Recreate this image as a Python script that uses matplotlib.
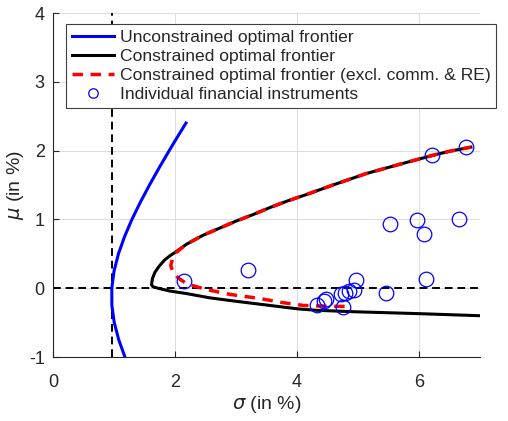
import matplotlib
matplotlib.use("Agg")
import matplotlib.pyplot as plt

plt.rcParams['font.family'] = ['Liberation Sans', 'DejaVu Sans']
plt.rcParams['axes.unicode_minus'] = False

# Unconstrained optimal frontier (sigma, mu) in %
unc_mu = [-1.0, -0.75, -0.5, -0.25, 0.0, 0.25, 0.5, 0.75, 1.0, 1.25, 1.5, 1.75, 2.0, 2.2, 2.4]
unc_sigma = [1.179, 1.078, 1.004, 0.965, 0.964, 1.001, 1.073, 1.173, 1.294, 1.432, 1.582, 1.740, 1.905, 2.041, 2.180]

# Constrained optimal frontier
con_sigma = [7.0, 6.0, 4.86, 4.3, 4.01, 3.55, 3.0, 2.57, 2.2, 1.91, 1.72, 1.64, 1.615,
             1.63, 1.67, 1.74, 1.83, 1.915, 2.0, 2.19, 2.46, 2.75, 3.0, 3.28, 3.55, 3.85,
             4.15, 4.59, 5.13, 5.68, 6.22, 6.5, 6.85]
con_mu = [-0.40, -0.37, -0.34, -0.32, -0.30, -0.25, -0.19, -0.14, -0.08, -0.04, 0.0, 0.02, 0.05,
          0.14, 0.23, 0.32, 0.41, 0.47, 0.52, 0.64, 0.77, 0.88, 0.975, 1.07, 1.17, 1.27,
          1.36, 1.50, 1.665, 1.80, 1.93, 1.99, 2.05]

# Constrained optimal frontier (excl. comm. & RE)
exc_sigma = [4.78, 4.4, 4.1, 3.77, 3.39, 2.9, 2.52, 2.2, 2.05, 1.96, 1.93, 1.96, 2.02,
             2.19, 2.46, 2.75, 3.0, 3.28, 3.55, 3.85, 4.15, 4.59, 5.13, 5.68, 6.22, 6.5, 6.85]
exc_mu = [-0.265, -0.26, -0.25, -0.21, -0.15, -0.09, -0.02, 0.06, 0.15, 0.25, 0.33, 0.43, 0.52,
          0.64, 0.77, 0.88, 0.975, 1.07, 1.17, 1.27, 1.36, 1.50, 1.665, 1.80, 1.93, 1.99, 2.05]

# Individual financial instruments
inst_sigma = [2.15, 3.19, 4.32, 4.45, 4.48, 4.72, 4.78, 4.76, 4.86, 4.94, 4.97, 5.46,
              5.53, 5.96, 6.08, 6.12, 6.65, 6.22, 6.77]
inst_mu = [0.10, 0.27, -0.25, -0.19, -0.16, -0.09, -0.07, -0.28, -0.04, -0.02, 0.12, -0.07,
           0.93, 0.99, 0.79, 0.14, 1.00, 1.93, 2.05]

min_sigma = 0.966

labels = ['Unconstrained optimal frontier', 'Constrained optimal frontier',
          'Constrained optimal frontier (excl. comm. & RE)', 'Individual financial instruments']

fig = plt.figure(figsize=(5.08, 4.21), dpi=100)
ax = fig.add_axes([53/508, 1 - 357/421, 427/508, 344/421])

tc = '#262626'
ax.plot(unc_sigma, unc_mu, color='#0000ff', lw=2.2, label=labels[0], zorder=3)
ax.plot(con_sigma, con_mu, color='black', lw=2.2, label=labels[1], zorder=3)
ax.plot(exc_sigma, exc_mu, color='#ff0000', lw=2.5, dashes=(3, 2.2), label=labels[2], zorder=4)
ax.axvline(min_sigma, color='black', lw=1.4, dashes=(4, 2.5), zorder=2)
ax.axhline(0, color='black', lw=1.4, dashes=(4, 2.5), zorder=2)
ax.plot(inst_sigma, inst_mu, 'o', mfc='none', mec='#0000ff', mew=0.9, ms=10.5,
        label=labels[3], zorder=5)

ax.set_xlim(0, 7)
ax.set_ylim(-1, 4)
ax.set_xticks([0, 2, 4, 6])
ax.set_yticks([-1, 0, 1, 2, 3, 4])
ax.grid(True, color='#dcdcdc', lw=0.7)
ax.set_axisbelow(True)
for s in ['top', 'right']:
    ax.spines[s].set_visible(False)
for s in ['left', 'bottom']:
    ax.spines[s].set_color(tc)
    ax.spines[s].set_linewidth(0.8)
ax.tick_params(direction='in', length=4, width=0.8, colors=tc, labelsize=13)
ax.tick_params(axis='x', pad=12)
ax.tick_params(axis='y', pad=6)
ax.set_xlabel(r'$\sigma$ (in %)', fontsize=14, color=tc)
ax.set_ylabel(r'$\mu$ (in %)', fontsize=14, color=tc)
ax.xaxis.set_label_coords(0.5, (357 - 394) / 344)
ax.yaxis.set_label_coords((26 - 53) / 427, 0.5)

leg = ax.legend(loc='upper left', bbox_to_anchor=(66/508, 1 - 24/421),
                bbox_transform=fig.transFigure, fontsize=12.6, frameon=True,
                fancybox=False, framealpha=1, edgecolor='#404040',
                handlelength=2.45, handletextpad=0.3, borderpad=0.32,
                labelspacing=0.22, borderaxespad=0, markerscale=0.65)
leg.get_frame().set_linewidth(0.8)
for t in leg.get_texts():
    t.set_color(tc)

fig.savefig('out.png', dpi=100)
